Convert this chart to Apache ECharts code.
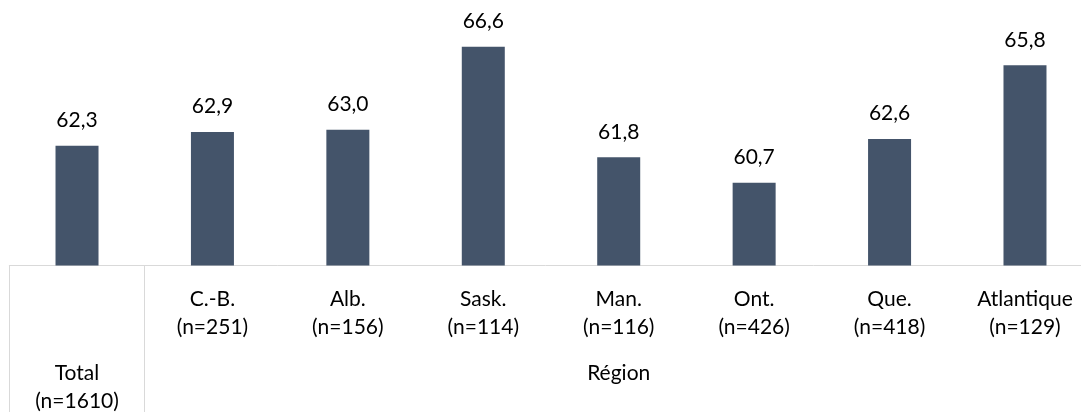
<!DOCTYPE html>
<html>
<head>
<meta charset="utf-8">
<script src="https://cdn.jsdelivr.net/npm/echarts@6/dist/echarts.min.js"></script>
<style>
  html, body { margin: 0; padding: 0; background: #fff; }
  #chart { width: 1081px; height: 412px; }
</style>
</head>
<body>
<div id="chart"></div>
<script>
// Mean scores by region, with the sample size of each group
const regions = ['Total', 'C.-B.', 'Alb.', 'Sask.', 'Man.', 'Ont.', 'Que.', 'Atlantique'];
const sampleSizes = [1610, 251, 156, 114, 116, 426, 418, 129];
const scores = [62.3, 62.9, 63.0, 66.6, 61.8, 60.7, 62.6, 65.8];
const groupTitle = 'Région';

const FONT = 'Lato';
const TEXT_SIZE = 21;
const frenchNumber = v => v.toFixed(1).replace('.', ',');

const chart = echarts.init(document.getElementById('chart'));

chart.setOption({
  animation: false,
  textStyle: { fontFamily: FONT },
  grid: {
    left: 9.3,
    top: 14.6,
    bottom: 146.5,
    width: 1083.4,
    outerBoundsMode: 'none',
    containLabel: false
  },
  xAxis: {
    type: 'category',
    data: regions,
    boundaryGap: true,
    axisLine: { show: true, lineStyle: { color: '#d9d9d9', width: 1 } },
    axisTick: {
      show: true,
      interval: i => i <= 1,
      length: 147,
      lineStyle: { color: '#d9d9d9', width: 1 }
    },
    axisLabel: {
      interval: 0,
      margin: 20,
      color: '#000',
      formatter: (value, index) => {
        const lines = `{t|${value}}\n{t|(n=${sampleSizes[index]})}`;
        return index === 0 ? `{gap| }\n${lines}` : lines;
      },
      rich: {
        t: { fontFamily: FONT, fontSize: TEXT_SIZE, lineHeight: 28, color: '#000', align: 'center' },
        gap: { fontSize: 10, lineHeight: 74 }
      }
    }
  },
  yAxis: {
    type: 'value',
    show: false,
    min: 57.1,
    max: 68,
    splitLine: { show: false }
  },
  series: [{
    type: 'bar',
    data: scores,
    barWidth: 43,
    itemStyle: { color: '#44546A' },
    label: {
      show: true,
      position: 'top',
      distance: 15,
      color: '#000',
      fontFamily: FONT,
      fontSize: TEXT_SIZE,
      formatter: p => frenchNumber(p.value)
    }
  }]
});

// Centre the group title under the regional categories (all but Total)
const firstX = chart.convertToPixel({ xAxisIndex: 0 }, regions[1]);
const lastX = chart.convertToPixel({ xAxisIndex: 0 }, regions[regions.length - 1]);
const axisY = chart.convertToPixel({ yAxisIndex: 0 }, 57.1);
chart.setOption({
  graphic: [{
    type: 'text',
    x: (firstX + lastX) / 2,
    y: axisY + 108,
    style: {
      text: groupTitle,
      fontFamily: FONT,
      fontSize: TEXT_SIZE,
      fill: '#000',
      align: 'center',
      verticalAlign: 'middle'
    }
  }]
});
</script>
</body>
</html>
